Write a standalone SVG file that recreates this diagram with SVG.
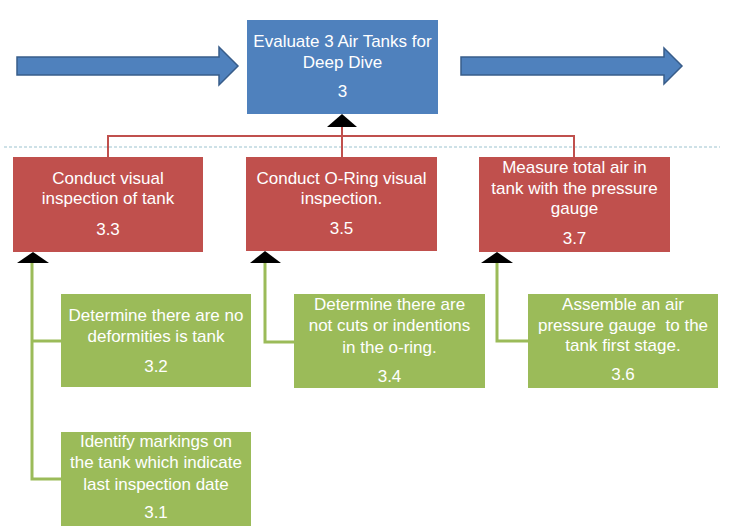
<svg xmlns="http://www.w3.org/2000/svg" width="739" height="531" viewBox="0 0 739 531">
<style>
text{font-family:"Liberation Sans",Arial,sans-serif;font-size:17px;fill:#ffffff;text-anchor:middle}
.blue{fill:#4F81BD}
.red{fill:#C0504D}
.green{fill:#9BBB59}
.arrow{fill:#4F81BD;stroke:#385D8A;stroke-width:1.5}
.rl{fill:none;stroke:#C0504D;stroke-width:2}
.gl{fill:none;stroke:#9BBB59;stroke-width:3}
.tri{fill:#000000}
</style>
<rect width="739" height="531" fill="#ffffff"/>
<line x1="4" y1="147" x2="720" y2="147" stroke="#9CC3CF" stroke-width="1" stroke-dasharray="3,2"/>
<g id="arrows">
<polygon class="arrow" points="17,57 219,57 219,47 238,66 219,85 219,75 17,75"/>
<polygon class="arrow" points="461,57 664,57 664,48 682,66 664,84 664,75 461,75"/>
</g>
<g id="connectors">
<polyline class="rl" points="108,157 108,136 574,136 574,157"/>
<line class="rl" x1="342" y1="127" x2="342" y2="157"/>
<polygon class="tri" points="342,114 357,127 327,127"/>
<polyline class="gl" points="32,262 32,479 61,479"/>
<line class="gl" x1="32" y1="341" x2="61" y2="341"/>
<polygon class="tri" points="33,252 49,263 17,263"/>
<polyline class="gl" points="265,263 265,342 294,342"/>
<polygon class="tri" points="265,251 281,263 250,263"/>
<polyline class="gl" points="497,262 497,341 528,341"/>
<polygon class="tri" points="497,252 513,263 481,263"/>
</g>
<g id="n3">
<rect class="blue" x="247" y="20" width="191" height="94"/>
<text x="342.5" y="47">Evaluate 3 Air Tanks for</text>
<text x="342.5" y="68">Deep Dive</text>
<text x="342.5" y="97">3</text>
</g>
<g id="n33">
<rect class="red" x="13" y="157" width="190" height="95"/>
<text x="108" y="184">Conduct visual</text>
<text x="108" y="204">inspection of tank</text>
<text x="108" y="235">3.3</text>
</g>
<g id="n35">
<rect class="red" x="246" y="157" width="191" height="94"/>
<text x="341.5" y="184">Conduct O-Ring visual</text>
<text x="341.5" y="204">inspection.</text>
<text x="341.5" y="234">3.5</text>
</g>
<g id="n37">
<rect class="red" x="479" y="157" width="191" height="95"/>
<text x="574.5" y="173">Measure total air in</text>
<text x="574.5" y="194">tank with the pressure</text>
<text x="574.5" y="214">gauge</text>
<text x="574.5" y="244">3.7</text>
</g>
<g id="n32">
<rect class="green" x="61" y="294" width="190" height="93"/>
<text x="156" y="321">Determine there are no</text>
<text x="156" y="342">deformities is tank</text>
<text x="156" y="372">3.2</text>
</g>
<g id="n31">
<rect class="green" x="61" y="432" width="190" height="94"/>
<text x="156" y="447">Identify markings on</text>
<text x="156" y="468">the tank which indicate</text>
<text x="156" y="490">last inspection date</text>
<text x="156" y="518">3.1</text>
</g>
<g id="n34">
<rect class="green" x="294" y="294" width="191" height="94"/>
<text x="389.5" y="310">Determine there are</text>
<text x="389.5" y="331">not cuts or indentions</text>
<text x="389.5" y="353">in the o-ring.</text>
<text x="389.5" y="382">3.4</text>
</g>
<g id="n36">
<rect class="green" x="528" y="294" width="190" height="94"/>
<text x="623" y="310">Assemble an air</text>
<text x="623" y="331" xml:space="preserve">pressure gauge  to the</text>
<text x="623" y="351">tank first stage.</text>
<text x="623" y="380">3.6</text>
</g>
</svg>
